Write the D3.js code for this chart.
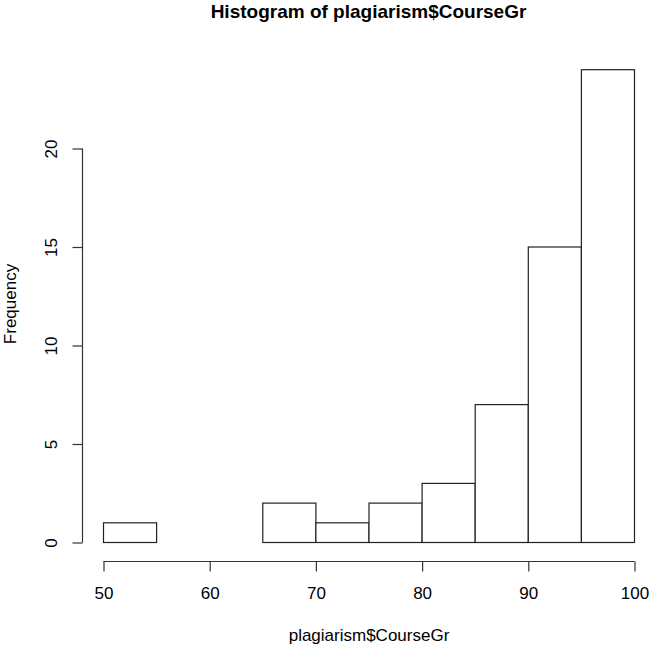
<!DOCTYPE html>
<html><head><meta charset="utf-8">
<script src="https://cdn.jsdelivr.net/npm/d3@7"></script>
<style>body{margin:0;background:#fff}svg{display:block}text{font-family:"Liberation Sans",Arial,sans-serif;fill:#000}</style>
</head><body><svg id="c" width="650" height="646"></svg>
<script>
const binStarts = [50,55,60,65,70,75,80,85,90,95];
const binWidth = 5;
const counts = [1,0,0,2,1,2,3,7,15,24];
const xTicks = [50,60,70,80,90,100];
const yTicks = [0,5,10,15,20];
const title = "Histogram of plagiarism$CourseGr";
const xTitle = "plagiarism$CourseGr";
const yTitle = "Frequency";

const svg = d3.select("#c");
const x = d3.scaleLinear().domain([50,100]).range([103,634]);
const y = d3.scaleLinear().domain([0,24]).range([542,69.2]);

svg.selectAll("rect.bar").data(binStarts).join("rect")
  .attr("class","bar")
  .attr("x",(d)=>x(d)+0.5)
  .attr("width",(d)=>x(d+binWidth)-x(d))
  .attr("y",(d,i)=>y(counts[i])+0.5)
  .attr("height",(d,i)=>y(0)-y(counts[i]))
  .attr("fill","#fff").attr("stroke","#222").attr("stroke-width",1.2);

const xAxis = d3.axisBottom(x).tickValues(xTicks).tickSize(10).tickPadding(15).tickSizeOuter(0).tickFormat(d3.format("d"));
const gx = svg.append("g").attr("transform","translate(0.5,561.5)").call(xAxis);
gx.select(".domain").attr("d",`M${x(50)},0H${x(100)}`).attr("stroke","#333").attr("stroke-width",1.2);
gx.selectAll(".tick line").attr("stroke","#333").attr("stroke-width",1.2);
gx.selectAll("text").attr("font-size",17).attr("font-family","Liberation Sans, Arial, sans-serif");

const yAxis = d3.axisLeft(y).tickValues(yTicks).tickSize(10).tickSizeOuter(0);
const gy = svg.append("g").attr("transform","translate(82.5,0.5)").call(yAxis);
gy.select(".domain").attr("d",`M0,${y(0)}V${y(20)}`).attr("stroke","#333").attr("stroke-width",1.2);
gy.selectAll(".tick line").attr("stroke","#333").attr("stroke-width",1.2);
gy.selectAll(".tick text").attr("font-size",17).attr("font-family","Liberation Sans, Arial, sans-serif")
  .attr("x",null).attr("text-anchor","middle")
  .attr("transform","translate(-31.5,0) rotate(-90)").attr("dy","0.35em");

svg.append("text").attr("x",368.5).attr("y",17.5).attr("text-anchor","middle")
  .attr("font-size",19).attr("font-weight","bold").text(title);
svg.append("text").attr("x",369).attr("y",641).attr("text-anchor","middle")
  .attr("font-size",17).text(xTitle);
svg.append("text").attr("transform","translate(15.5,304) rotate(-90)").attr("text-anchor","middle")
  .attr("font-size",17).text(yTitle);
</script></body></html>
